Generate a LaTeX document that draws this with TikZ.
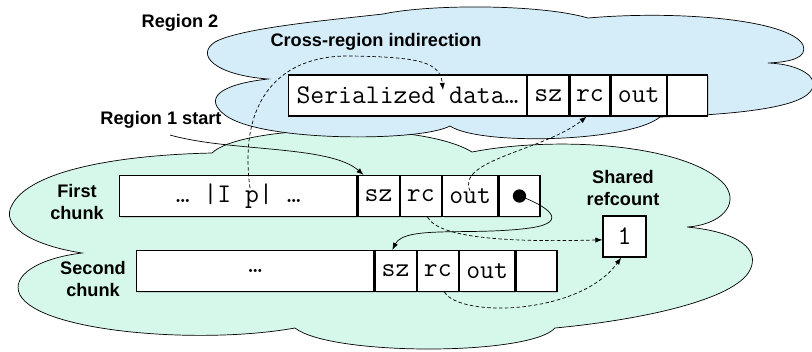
\documentclass[tikz,border=0pt]{standalone}
\usepackage{fontspec}
\setsansfont{Liberation Sans}
\usepackage{tikz}
\usetikzlibrary{arrows.meta,positioning,shadows}

\definecolor{regiontwo}{RGB}{212,237,249}
\definecolor{regionone}{RGB}{213,248,234}

\tikzset{
  cell/.style={draw, line width=1pt, fill=white, inner sep=0pt,
    minimum height=1.23cm, minimum width=1.23cm,
    font=\ttfamily\fontsize{23}{25}\selectfont,
    drop shadow={shadow xshift=1pt, shadow yshift=-1pt, opacity=.3}},
  wide/.style={cell, minimum width=1.66cm},
  body/.style={cell, minimum width=7.12cm},
  lbl/.style={font=\sffamily\bfseries\fontsize{15.5}{19}\selectfont, align=center},
  cloud/.style={draw, line width=0.6pt},
  ptr/.style={line width=0.6pt, dash pattern=on 3pt off 2pt, -{Latex[length=6pt,width=4.5pt]}},
  link/.style={line width=0.6pt, -{Latex[length=6pt,width=4.5pt]}}
}

\begin{document}
\begin{tikzpicture}
  \tikzset{x={(0.03cm, 0cm)}, y={(0cm, -0.03cm)}}
  \useasboundingbox (0,0) rectangle (812,351);

  % region 1
  \draw[cloud, fill=regionone] (212,153)
    .. controls (240,125) and (420,120) .. (472,152)
    .. controls (560,135) and (690,145) .. (725,185)
    .. controls (740,205) and (720,225) .. (687,227)
    .. controls (740,232) and (760,250) .. (750,270)
    .. controls (735,300) and (640,320) .. (555,328)
    .. controls (530,356) and (330,356) .. (295,328)
    .. controls (200,345) and (40,332) .. (20,295)
    .. controls (10,275) and (40,258) .. (82,253)
    .. controls (30,245) and (0,225) .. (12,205)
    .. controls (30,170) and (120,155) .. (212,153) -- cycle;

  % region 2
  \draw[cloud, fill=regiontwo] (268,79)
    .. controls (215,75) and (195,55) .. (215,42)
    .. controls (240,28) and (330,20) .. (383,14)
    .. controls (430,4) and (540,4) .. (588,18)
    .. controls (680,10) and (790,20) .. (803,45)
    .. controls (808,58) and (790,62) .. (768,63)
    .. controls (800,64) and (822,78) .. (810,92)
    .. controls (795,110) and (720,115) .. (660,117)
    .. controls (630,142) and (480,146) .. (450,126)
    .. controls (420,142) and (260,142) .. (225,115)
    .. controls (205,100) and (215,85) .. (268,79) -- cycle;

  % labels
  \node[lbl] (reg2) at (180,23) {Region 2};
  \node[lbl] (indir) at (376,42) {Cross-region indirection};
  \node[lbl] (reg1) at (161,120) {Region 1 start};
  \node[lbl] (first) at (77,202) {First\\chunk};
  \node[lbl] (second) at (93,279) {Second\\chunk};
  \node[lbl] (shared) at (623,188) {Shared\\refcount};

  % serialized data in region 2
  \node[body, anchor=west, minimum width=7.14cm] (data) at (288,95.5) {Serialized data…};
  \node[cell, right=0pt of data] (szt) {sz};
  \node[cell, right=0pt of szt, minimum width=1.2cm] (rct) {rc};
  \node[wide, right=0pt of rct] (outt) {out};
  \node[cell, right=0pt of outt, minimum width=1.2cm] (endt) {};

  % first chunk
  \node[body, anchor=west] (chunka) at (119,196) {… |I p| …};
  \node[cell, right=0pt of chunka] (sza) {sz};
  \node[cell, right=0pt of sza] (rca) {rc};
  \node[wide, right=0pt of rca] (outa) {out};
  \node[cell, right=0pt of outa] (nexta) {};
  \node[circle, fill=black, inner sep=0pt, minimum size=0.4cm] (dot) at (nexta.center) {};

  % second chunk
  \node[body, anchor=west] (chunkb) at (136,271) {…};
  \node[cell, right=0pt of chunkb] (szb) {sz};
  \node[cell, right=0pt of szb] (rcb) {rc};
  \node[wide, right=0pt of rcb] (outb) {out};
  \node[cell, right=0pt of outb] (endb) {};

  % refcount
  \node[cell, minimum width=1.29cm] (refc) at (624.5,236.5) {1};

  \coordinate (pfield) at (250,188);
  \coordinate (dataslot) at (443,90);
  \coordinate (startline) at (170,135);

  % connectors
  \draw[ptr] (pfield) .. controls (238,100) and (280,55) .. (350,56)
    .. controls (420,57) and (440,62) .. (dataslot);
  \draw[link] (startline) .. controls (230,152) and (330,145) .. ([xshift=0.18cm]sza.north west);
  \draw[ptr] ([yshift=0.15cm]outa.center) .. controls (455,160) and (545,150) .. ([xshift=-0.1cm]rct.south);
  \draw[ptr] ([xshift=0.2cm]rca.south) .. controls (440,240) and (520,242) .. ([yshift=-0.1cm]refc.west);
  \draw[link] (dot.center) .. controls (545,205) and (572,222) .. (530,228)
    .. controls (470,236) and (405,225) .. ([xshift=-0.1cm]szb.north);
  \draw[ptr] ([xshift=0.2cm]rcb.south) .. controls (460,318) and (580,315) .. ([xshift=-0.1cm]refc.south);
\end{tikzpicture}
\end{document}
